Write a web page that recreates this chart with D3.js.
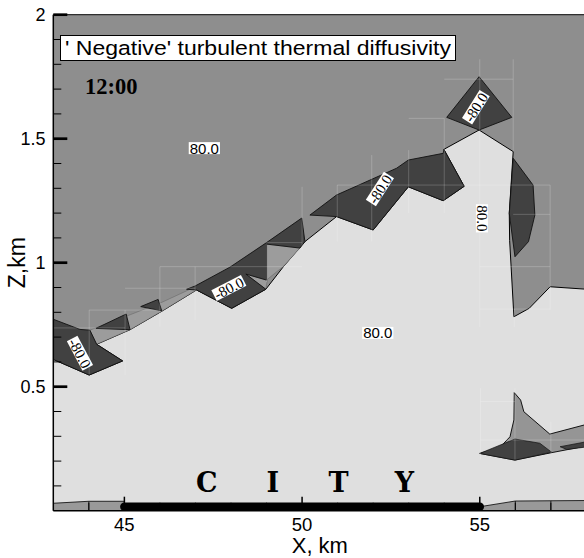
<!DOCTYPE html>
<html><head><meta charset="utf-8">
<script src="https://cdn.jsdelivr.net/npm/d3@7"></script>
<style>body{margin:0;background:#fff;}svg{display:block;}</style>
</head><body>
<svg id="chart" width="584" height="558"></svg>
<script>
// ---------- data ----------
const xDomain = [43, 58];
const zDomain = [0, 2];
const xMajorTicks = [45, 50, 55];
const xMinorTicks = [44, 46, 47, 48, 49, 51, 52, 53, 54, 56, 57];
const zMajorTicks = [0.5, 1, 1.5, 2];
const zMinorTicks = [0.1, 0.2, 0.3, 0.4, 0.6, 0.7, 0.8, 0.9, 1.1, 1.2, 1.3, 1.4, 1.6, 1.7, 1.8, 1.9];
const cityRange = [45, 55];
const cityLetters = ["C", "I", "T", "Y"];
const cityLetterSpan = [47.32, 52.88];

// region with positive diffusivity below the boundary (x km, z km)
const lightRegion = [[43,0.61],[44.01,0.547],[44.95,0.604],[44.22,0.671],[45.16,0.73],[46.05,0.804],[47.03,0.89],
  [48.02,0.816],[48.98,0.893],[49.49,0.987],[50.08,1.085],[50.97,1.186],[52.0,1.132],[52.99,1.306],[53.97,1.25],
  [54.56,1.308],[53.99,1.457],[54.98,1.535],[55.94,1.448],[55.83,1.2],[55.84,1.09],[55.96,0.782],[56.39,0.816],
  [56.98,0.903],[58,0.893],[58,0],[43,0]];

// slightly lighter grey patches
const lighterPatches = [
  [[44.03,0.728],[45.16,0.79],[46.05,0.84],[47.03,0.905],[47.03,0.89],[46.05,0.804],[45.16,0.73],[44.22,0.671]],
  [[49.0,1.075],[49.94,1.059],[49.49,0.987],[49.0,0.93]],
  [[48.42,0.954],[49.02,0.929],[48.98,0.893]]
];

// negative diffusivity patches (-80)
const darkPatches = [
  [[43,0.772],[43.75,0.731],[44.03,0.728],[44.22,0.671],[44.95,0.604],[44.01,0.547],[43,0.61]],
  [[44.2,0.735],[45.05,0.793],[45.16,0.73]],
  [[45.46,0.823],[45.95,0.852],[46.05,0.806]],
  [[46.75,0.893],[46.99,0.906],[47.97,0.982],[49.0,1.081],[49.0,0.93],[48.42,0.954],[48.98,0.893],[48.02,0.816],[47.03,0.89]],
  [[49.0,1.081],[49.99,1.18],[50.08,1.085],[49.94,1.059],[49.0,1.075]],
  [[50.22,1.192],[50.97,1.273],[52.66,1.381],[52.99,1.414],[53.97,1.441],[53.99,1.457],[54.56,1.308],[53.97,1.25],
   [52.99,1.306],[52.0,1.132],[50.97,1.186]],
  [[54.98,1.75],[54.07,1.586],[54.98,1.535],[55.9,1.586]],
  [[55.94,1.421],[56.5,1.313],[56.55,1.192],[56.37,1.085],[55.99,1.024],[55.83,1.199]]
];

// low-level structure right of the city
const plumeShape = [[55.97,0.476],[56.15,0.446],[56.24,0.399],[56.97,0.309],[58,0.348],[58,0.261],[57.02,0.234],
  [55.99,0.204],[55.0,0.231],[55.57,0.256],[55.85,0.298],[55.96,0.366]];
const plumeDark = [
  [[55.0,0.231],[55.99,0.289],[56.69,0.272],[57.02,0.236],[55.99,0.204]],
  [[57.26,0.258],[58,0.278],[58,0.257],[57.45,0.247]]
];

// surface band
const bandLeft = [[43,0],[43,0.03],[44,0.038],[45,0.038],[45,0]];
const bandRight = [[55,0],[55,0.016],[56,0.039],[57,0.04],[58,0.041],[58,0]];
const bandCells = [44, 56, 57];

// faint mesh lines
const meshSegments = [
  [[55,1.82],[55,0.74]], [[55.94,1.82],[55.94,1.45]], [[54,1.74],[55.94,1.74]], [[53,1.582],[54,1.582]],
  [[54,1.582],[54,1.2]], [[53,1.454],[53,1.2]], [[51.96,1.434],[51.96,1.085]], [[50.99,1.313],[50.99,1.085]],
  [[50.99,1.313],[56.98,1.313]], [[55.94,1.195],[56.98,1.195]], [[55,0.984],[56.98,0.984]],
  [[56.98,1.313],[56.98,0.81]], [[55,0.813],[56.98,0.813]], [[55.97,0.813],[55.97,0.74]],
  [[55.02,0.494],[55.02,0.207]], [[55.02,0.44],[55.99,0.44]], [[55.02,0.285],[58,0.285]],
  [[55.99,0.494],[55.99,0.207]], [[57,0.359],[57,0.233]],
  [[44.01,0.809],[44.01,0.55]], [[44.01,0.809],[46,0.809]], [[45.02,0.809],[45.02,0.547]],
  [[43,0.737],[45.02,0.737]], [[46,0.984],[46,0.742]], [[45.02,0.897],[46.99,0.897]],
  [[46.99,0.984],[46.99,0.769]], [[46,0.984],[48,0.984]], [[49,1.081],[49,0.923]],
  [[48,0.984],[50,0.984]], [[49,1.081],[50,1.081]], [[50,1.306],[50,1.05]]
];

// contour labels
const labelText  = ["80.0", "80.0", "80.0", "-80.0", "-80.0", "-80.0", "-80.0"];
const labelX     = [47.25, 52.13, 55.06, 43.75, 47.94, 52.19, 54.89];
const labelZ     = [1.462, 0.717, 1.179, 0.635, 0.898, 1.297, 1.627];
const labelAngle = [0, 0, 90, 62, -27, -57, -58];
const labelSerif = [false, false, true, true, true, true, true];

const titleText = "' Negative' turbulent thermal diffusivity";
const timeText = "12:00";

// ---------- drawing ----------
const C = {upper:"#8e8e8e", light:"#dfdfdf", dark:"#414141", lighter:"#9c9c9c"};
const svg = d3.select("#chart");
const x = d3.scaleLinear().domain(xDomain).range([53.3, 586.4]);
const y = d3.scaleLinear().domain(zDomain).range([510.7, 14.7]);
const line = d3.line().x(d => x(d[0])).y(d => y(d[1]));
const poly = pts => line(pts) + "Z";

svg.append("defs").append("clipPath").attr("id","clip")
  .append("rect").attr("x", x(43)).attr("y", y(2)).attr("width", x(58)-x(43)).attr("height", y(0)-y(2));
const g = svg.append("g").attr("clip-path","url(#clip)");

g.append("rect").attr("x", x(43)).attr("y", y(2)).attr("width", x(58)-x(43)).attr("height", y(0)-y(2))
  .attr("fill", C.upper);

g.append("path").attr("d", poly(lightRegion)).attr("fill", C.light).attr("stroke", "#000").attr("stroke-width", 1);

g.selectAll(".lp").data(lighterPatches).join("path").attr("d", poly).attr("fill", C.lighter)
  .attr("stroke","#555").attr("stroke-width",0.4);

g.selectAll(".dp").data(darkPatches).join("path").attr("d", poly).attr("fill", C.dark)
  .attr("stroke","#111").attr("stroke-width",0.9);

g.append("path").attr("d", poly(plumeShape)).attr("fill", "#959595").attr("stroke","#000").attr("stroke-width",0.9);
g.selectAll(".pd").data(plumeDark).join("path").attr("d", poly).attr("fill", C.dark)
  .attr("stroke","#111").attr("stroke-width",0.7);

g.selectAll(".mesh").data(meshSegments).join("path").attr("d", line)
  .attr("stroke","#fff").attr("stroke-opacity",0.2).attr("stroke-width",1).attr("fill","none");

// surface band
[bandLeft, bandRight].forEach(b => {
  g.append("path").attr("d", poly(b)).attr("fill", "#999").attr("stroke","#000").attr("stroke-width",0.8);
});
const bandTop = xv => {
  const all = bandLeft.concat(bandRight).filter(p => p[1] > 0);
  return all.find(p => p[0] === xv)[1];
};
g.selectAll(".cell").data(bandCells).join("line")
  .attr("x1", d => x(d)).attr("x2", d => x(d)).attr("y1", y(0)).attr("y2", d => y(bandTop(d)))
  .attr("stroke","#000").attr("stroke-width",0.8);

// contour labels
labelText.forEach((t, i) => {
  const fs = 15;
  const lg = g.append("g").attr("transform", `translate(${x(labelX[i])},${y(labelZ[i])}) rotate(${labelAngle[i]})`);
  const rect = lg.append("rect").attr("fill","#fff");
  const tx = lg.append("text").text(t).attr("text-anchor","middle")
    .attr("y", fs*0.36)
    .attr("font-family", labelSerif[i] ? "'Liberation Serif','Times New Roman',serif" : "'Liberation Sans',Arial,sans-serif")
    .attr("font-size", fs).attr("fill","#000");
  const w = tx.node().getComputedTextLength() + 2;
  const h = fs*0.8;
  rect.attr("x", -w/2).attr("y", -h/2).attr("width", w).attr("height", h);
});

// city bar
svg.append("line").attr("x1", x(cityRange[0])).attr("x2", x(cityRange[1]))
  .attr("y1", y(0.0157)).attr("y2", y(0.0157)).attr("stroke","#000").attr("stroke-width",8.5).attr("stroke-linecap","round");

const letterPos = d3.scalePoint().domain(cityLetters).range(cityLetterSpan.map(x));
svg.selectAll(".city").data(cityLetters).join("text").text(d => d)
  .attr("x", d => letterPos(d)).attr("y", 491.7).attr("text-anchor","middle")
  .attr("font-family","'DejaVu Serif','Liberation Serif',serif").attr("font-weight","bold")
  .attr("font-size", 27).attr("fill","#000");

// axes
svg.append("line").attr("x1", x(43)).attr("x2", x(43)).attr("y1", y(0)).attr("y2", y(2)).attr("stroke","#000").attr("stroke-width",1.5);
svg.append("line").attr("x1", x(43)).attr("x2", 584).attr("y1", y(2)).attr("y2", y(2)).attr("stroke","#000").attr("stroke-width",1);
svg.append("line").attr("x1", x(43)).attr("x2", 584).attr("y1", y(0)).attr("y2", y(0)).attr("stroke","#000").attr("stroke-width",1.5);

svg.selectAll(".zmaj").data(zMajorTicks).join("line")
  .attr("x1", x(43)).attr("x2", x(43)+14).attr("y1", d => y(d)).attr("y2", d => y(d))
  .attr("stroke","#000").attr("stroke-width",2.7);
svg.selectAll(".zmin").data(zMinorTicks).join("line")
  .attr("x1", x(43)).attr("x2", x(43)+8).attr("y1", d => y(d)).attr("y2", d => y(d))
  .attr("stroke","#000").attr("stroke-width",1);
svg.selectAll(".xmaj").data(xMajorTicks).join("line")
  .attr("x1", d => x(d)).attr("x2", d => x(d)).attr("y1", y(0)).attr("y2", y(0)-14)
  .attr("stroke","#000").attr("stroke-width",1.5);
svg.selectAll(".xmin").data(xMinorTicks).join("line")
  .attr("x1", d => x(d)).attr("x2", d => x(d)).attr("y1", y(0)).attr("y2", y(0)-8)
  .attr("stroke","#000").attr("stroke-width",1);

const sans = "'Liberation Sans',Arial,Helvetica,sans-serif";
svg.selectAll(".zlab").data(zMajorTicks).join("text").text(d => d3.format("~g")(d))
  .attr("x", 45.5).attr("y", d => y(d) + 6.3).attr("text-anchor","end")
  .attr("font-family", sans).attr("font-size", 18).attr("fill","#000");
svg.selectAll(".xlab").data(xMajorTicks).join("text").text(d => d)
  .attr("x", d => x(d)).attr("y", 530.8).attr("text-anchor","middle")
  .attr("font-family", sans).attr("font-size", 18.5).attr("fill","#000");

svg.append("text").text("X, km").attr("x", (x(43)+x(58))/2).attr("y", 553).attr("text-anchor","middle")
  .attr("font-family", sans).attr("font-size", 22).attr("fill","#000");
svg.append("text").text("Z,km").attr("transform", `translate(25,${(y(0)+y(2))/2}) rotate(-90)`)
  .attr("text-anchor","middle").attr("font-family", sans).attr("font-size", 23).attr("fill","#000");

// title box
svg.append("rect").attr("x", 60.5).attr("y", 35.5).attr("width", 395).attr("height", 25)
  .attr("fill","#fff").attr("stroke","#000").attr("stroke-width",1);
svg.append("text").text(titleText).attr("x", 65).attr("y", 54.5)
  .attr("textLength", 386).attr("lengthAdjust","spacingAndGlyphs")
  .attr("font-family", sans).attr("font-size", 20.5).attr("fill","#000");

svg.append("text").text(timeText).attr("x", 85).attr("y", 94)
  .attr("font-family","'Liberation Serif','Times New Roman',serif").attr("font-weight","bold")
  .attr("font-size", 22.5).attr("fill","#000");
</script>
</body></html>
